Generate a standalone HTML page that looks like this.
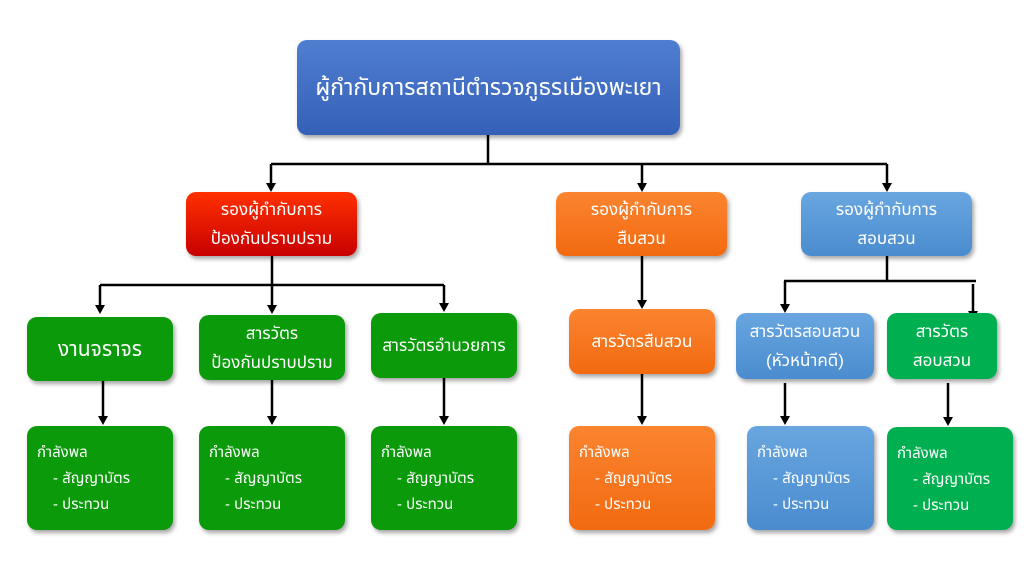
<!DOCTYPE html>
<html><head><meta charset="utf-8"><style>
body{margin:0;width:1024px;height:576px;background:#fff;position:relative;overflow:hidden;font-family:"Liberation Sans","Noto Sans Thai","Tlwg Typist",sans-serif;}
.b{position:absolute;border-radius:10px;color:#fff;display:flex;flex-direction:column;align-items:center;justify-content:center;text-align:center;box-shadow:2px 3px 4px rgba(0,0,0,.35);font-size:17px;line-height:29px;box-sizing:border-box}
.l{align-items:flex-start;justify-content:flex-start;text-align:left;padding:14px 0 0 10px;font-size:15px;line-height:26px}
.l span{padding-left:16px}
.g{background:#0a9a0a}.o{background:linear-gradient(#fb8430,#f26a10)}.bl{background:linear-gradient(#69a6e0,#4a8ccf)}.g2{background:#00b050}
svg{position:absolute;left:0;top:0}
</style></head><body>
<svg width="1024" height="576">
<g stroke="#000" stroke-width="2.5" fill="none">
<path d="M488,135V164M271,164H887M271,164V184M642,164V184M887,164V184"/>
<path d="M272,256V285M100,285H444M100,285V306M272,285V306M444,285V304"/>
<path d="M642,256V301"/>
<path d="M887,256V281M784,281H976M785,281V305M973,284V312"/>
<path d="M103,381V417M272,380V417M444,378V417M642,374V417M785,383V417M948,383V418"/>
</g>
<g fill="#000">
<path d="M266,183h10l-5,9z"/><path d="M637,183h10l-5,9z"/><path d="M882,183h10l-5,9z"/>
<path d="M95,305h10l-5,9z"/><path d="M267,305h10l-5,9z"/><path d="M439,303h10l-5,9z"/>
<path d="M637,300h10l-5,9z"/><path d="M780,304h10l-5,9z"/><path d="M968,311h10l-5,9z"/>
<path d="M98,416h10l-5,9z"/><path d="M267,416h10l-5,9z"/><path d="M439,416h10l-5,9z"/>
<path d="M637,416h10l-5,9z"/><path d="M780,416h10l-5,9z"/><path d="M943,417h10l-5,9z"/>
</g></svg>
<div class="b" style="left:297px;top:40px;width:383px;height:95px;background:linear-gradient(#4f7ed0,#3560b8);font-size:23px">ผู้กำกับการสถานีตำรวจภูธรเมืองพะเยา</div>
<div class="b" style="left:186px;top:192px;width:171px;height:64px;background:linear-gradient(#ff3000,#c80000)">รองผู้กำกับการ<br>ป้องกันปราบปราม</div>
<div class="b o" style="left:556px;top:192px;width:171px;height:64px">รองผู้กำกับการ<br>สืบสวน</div>
<div class="b bl" style="left:801px;top:192px;width:171px;height:64px">รองผู้กำกับการ<br>สอบสวน</div>
<div class="b g" style="left:27px;top:317px;width:146px;height:64px;font-size:21px">งานจราจร</div>
<div class="b g" style="left:199px;top:315px;width:146px;height:65px">สารวัตร<br>ป้องกันปราบปราม</div>
<div class="b g" style="left:371px;top:313px;width:146px;height:65px">สารวัตรอำนวยการ</div>
<div class="b o" style="left:569px;top:309px;width:146px;height:65px">สารวัตรสืบสวน</div>
<div class="b bl" style="left:736px;top:313px;width:138px;height:66px">สารวัตรสอบสวน<br>(หัวหน้าคดี)</div>
<div class="b g2" style="left:887px;top:313px;width:110px;height:66px">สารวัตร<br>สอบสวน</div>
<div class="b g l" style="left:27px;top:426px;width:146px;height:104px">กำลังพล<span>- สัญญาบัตร</span><span>- ประทวน</span></div>
<div class="b g l" style="left:199px;top:426px;width:146px;height:104px">กำลังพล<span>- สัญญาบัตร</span><span>- ประทวน</span></div>
<div class="b g l" style="left:371px;top:426px;width:146px;height:104px">กำลังพล<span>- สัญญาบัตร</span><span>- ประทวน</span></div>
<div class="b o l" style="left:569px;top:426px;width:146px;height:104px">กำลังพล<span>- สัญญาบัตร</span><span>- ประทวน</span></div>
<div class="b bl l" style="left:747px;top:426px;width:127px;height:104px">กำลังพล<span>- สัญญาบัตร</span><span>- ประทวน</span></div>
<div class="b g2 l" style="left:887px;top:427px;width:126px;height:103px">กำลังพล<span>- สัญญาบัตร</span><span>- ประทวน</span></div>
</body></html>
